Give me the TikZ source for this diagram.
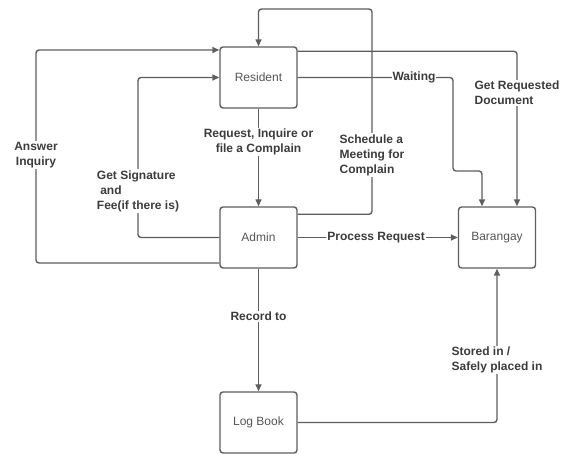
\documentclass[tikz,border=0pt]{standalone}
\usepackage{fontspec}
\setmainfont{Liberation Sans}
\usetikzlibrary{arrows.meta,calc}
\definecolor{linegray}{HTML}{5E5E5E}
\definecolor{labelgray}{HTML}{3C3C3C}
\definecolor{boxtext}{HTML}{555555}
\tikzset{
  x=1pt, y=1pt,
  entity/.style={draw=linegray, line width=1.4pt, rounded corners=3pt,
    minimum width=77pt, minimum height=61pt, inner sep=0pt,
    font=\fontsize{12}{14}\selectfont, text=boxtext},
  flow/.style={draw=linegray, line width=1.4pt, rounded corners=3pt,
    -{Triangle[length=7pt,width=6pt]}},
  tag/.style={fill=white, inner sep=1pt, text=labelgray,
    font=\bfseries\fontsize{12}{15}\selectfont, align=left},
}
\begin{document}
\begin{tikzpicture}
\useasboundingbox (0,0) rectangle (568,-454);

% entities
\node[entity] (res) at (258.5,-77.5)  {Resident};
\node[entity] (adm) at (258.5,-237.5) {Admin};
\node[entity] (log) at (258.5,-422.5) {Log Book};
\node[entity] (bar) at (497,-237.5)   {Barangay};

% turning points of the routed connectors
\coordinate (loopS) at ([yshift=-8pt]adm.north east);
\coordinate (loopR) at (372,-9);
\coordinate (waitA) at (453,-77.5);
\coordinate (waitB) at (453,-171);
\coordinate (sigX)  at (138,-237.5);
\coordinate (ansX)  at (36,-263);

% Admin schedules a meeting back to Resident
\draw[flow] (loopS) -| (loopR) -| (res.north);
\node[tag] at (372,-155) {Schedule a\\Meeting for\\Complain};

% Resident to Barangay
\draw[flow] ([yshift=-5pt]res.north east) -| ([xshift=20pt]bar.north);
\node[tag] at (517,-93) {Get Requested\\Document};

\draw[flow] (res.east) -- (waitA) -- (waitB) -| ([xshift=-15pt]bar.north);
\node[tag] at (414,-77.5) {Waiting};

% Admin back to Resident
\draw[flow] (adm.west) -- (sigX) |- (res.west);
\node[tag] at (138,-191) {Get Signature\\\ and\\Fee(if there is)};

\draw[flow] ([yshift=-25.5pt]adm.west) -- (ansX) |- ([yshift=27.5pt]res.west);
\node[tag, align=center] at (36,-155) {Answer\\Inquiry};

% straight flows
\draw[flow] (res.south) -- node[tag, align=center, pos=0.34] {Request, Inquire or\\file a Complain} (adm.north);
\draw[flow] (adm.east) -- node[tag, pos=0.49] {Process Request} (bar.west);
\draw[flow] (adm.south) -- node[tag, pos=0.39] {Record to} (log.north);

% Log Book to Barangay
\draw[flow] (log.east) -| (bar.south);
\node[tag] at (497,-360) {Stored in /\\Safely placed in};
\end{tikzpicture}
\end{document}
